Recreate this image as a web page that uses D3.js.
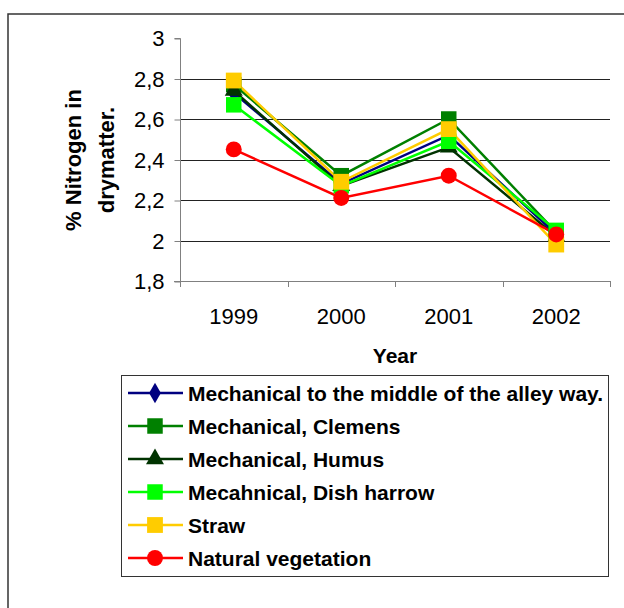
<!DOCTYPE html>
<html><head><meta charset="utf-8">
<script src="https://cdn.jsdelivr.net/npm/d3@7"></script>
<style>body{margin:0;background:#fff}svg{display:block;font-family:"Liberation Sans",Arial,sans-serif}</style>
</head><body><svg id="c" width="624" height="608"></svg>
<script>
const years = ["1999","2000","2001","2002"];
const seriesNames = ["Mechanical to the middle of the alley way.","Mechanical, Clemens","Mechanical, Humus","Mecahnical, Dish harrow","Straw","Natural vegetation"];
const mechMiddle = [2.73, 2.28, 2.52, 2.03];
const mechClemens = [2.77, 2.32, 2.60, 2.04];
const mechHumus = [2.74, 2.27, 2.46, 2.02];
const mechDish = [2.67, 2.27, 2.49, 2.05];
const straw = [2.79, 2.29, 2.55, 1.98];
const natural = [2.45, 2.21, 2.32, 2.03];
const yTicks = [1.8, 2.0, 2.2, 2.4, 2.6, 2.8, 3.0];
const colors = ["#000080","#008000","#003300","#00FF00","#FFCC00","#FF0000"];
const shapes = [d3.symbolDiamond, d3.symbolSquare, d3.symbolTriangle, d3.symbolSquare, d3.symbolSquare, d3.symbolCircle];
const symSize = [120, 240, 140, 240, 250, 200];
const data = [mechMiddle, mechClemens, mechHumus, mechDish, straw, natural];

const svg = d3.select("#c");
const FONT = "Liberation Sans, Arial, sans-serif";
// outer frame
svg.append("rect").attr("x",8).attr("y",14).attr("width",700).attr("height",700)
  .attr("fill","none").attr("stroke","#333").attr("stroke-width",1.5);

const L=180, R=610, T=38, B=281;
const x = d3.scaleBand().domain(years).range([L,R]);
const y = d3.scaleLinear().domain([1.8,3.0]).range([B,T]);

// gridlines
svg.append("g").selectAll("line").data(yTicks.filter(v=>v>1.8 && v<3.0)).join("line")
  .attr("x1",L).attr("x2",R).attr("y1",d=>Math.round(y(d))+0.5).attr("y2",d=>Math.round(y(d))+0.5)
  .attr("stroke","#222").attr("stroke-width",1);

// y axis
const yAxis = d3.axisLeft(y).tickValues(yTicks).tickSize(6).tickPadding(10)
  .tickFormat(d=>d3.format(".1~f")(d).replace(".",","));
const gy = svg.append("g").attr("transform",`translate(${L+0.5},0.5)`).call(yAxis);
gy.select(".domain").attr("stroke","#808080").attr("d",`M-6,${y(3.0)}H0V${y(1.8)}`);
gy.selectAll(".tick line").attr("stroke","#808080");
gy.selectAll(".tick text").attr("font-size",22).attr("fill","#000").attr("font-family",FONT);

// x axis
const xAxis = d3.axisBottom(x).tickSize(0).tickPadding(0);
const gx = svg.append("g").attr("transform",`translate(0,${B+0.5})`).call(xAxis);
gx.select(".domain").attr("stroke","#808080").attr("d",`M${L-6},0H${R}`);
gx.selectAll(".tick text").attr("font-size",22).attr("fill","#000").attr("dy",0).attr("y",42)
  .attr("font-family",FONT);
// boundary ticks
svg.append("g").selectAll("line").data(years).join("line")
  .attr("x1",d=>Math.round(x(d)+x.bandwidth())+0.5).attr("x2",d=>Math.round(x(d)+x.bandwidth())+0.5)
  .attr("y1",B).attr("y2",B+6).attr("stroke","#808080");
svg.append("line").attr("x1",L+0.5).attr("x2",L+0.5).attr("y1",B).attr("y2",B+6).attr("stroke","#808080");

// axis titles
svg.append("text").attr("x",(L+R)/2).attr("y",363).attr("text-anchor","middle")
  .attr("font-size",21).attr("font-weight","bold").text("Year");
const yt = svg.append("text").attr("transform","translate(81,160) rotate(-90)")
  .attr("text-anchor","middle").attr("font-size",22).attr("font-weight","bold");
yt.append("tspan").attr("x",0).attr("y",0).text("% Nitrogen in");
yt.append("tspan").attr("x",0).attr("y",33).text("drymatter.");

// lines
const line = d3.line().x((d,i)=>x(years[i])+x.bandwidth()/2).y(d=>y(d));
data.forEach((vals,si)=>{
  svg.append("path").datum(vals).attr("d",line).attr("fill","none")
    .attr("stroke",colors[si]).attr("stroke-width",2.5);
});
data.forEach((vals,si)=>{
  svg.append("g").selectAll("path").data(vals).join("path")
    .attr("d",d3.symbol().type(shapes[si]).size(symSize[si]))
    .attr("transform",(d,i)=>`translate(${x(years[i])+x.bandwidth()/2},${y(d)})`)
    .attr("fill",colors[si]);
});

// legend
const lg = svg.append("g");
lg.append("rect").attr("x",121.5).attr("y",375.5).attr("width",487).attr("height",201)
  .attr("fill","#fff").attr("stroke","#333").attr("stroke-width",1);
seriesNames.forEach((name,si)=>{
  const cy = 393 + si*33;
  lg.append("line").attr("x1",128).attr("x2",183).attr("y1",cy).attr("y2",cy)
    .attr("stroke",colors[si]).attr("stroke-width",2.5);
  lg.append("path").attr("d",d3.symbol().type(shapes[si]).size(symSize[si]))
    .attr("transform",`translate(155,${cy})`).attr("fill",colors[si]);
  lg.append("text").attr("x",188).attr("y",cy+7.5).attr("font-size",21).attr("font-weight","bold")
    .text(name);
});
</script></body></html>
